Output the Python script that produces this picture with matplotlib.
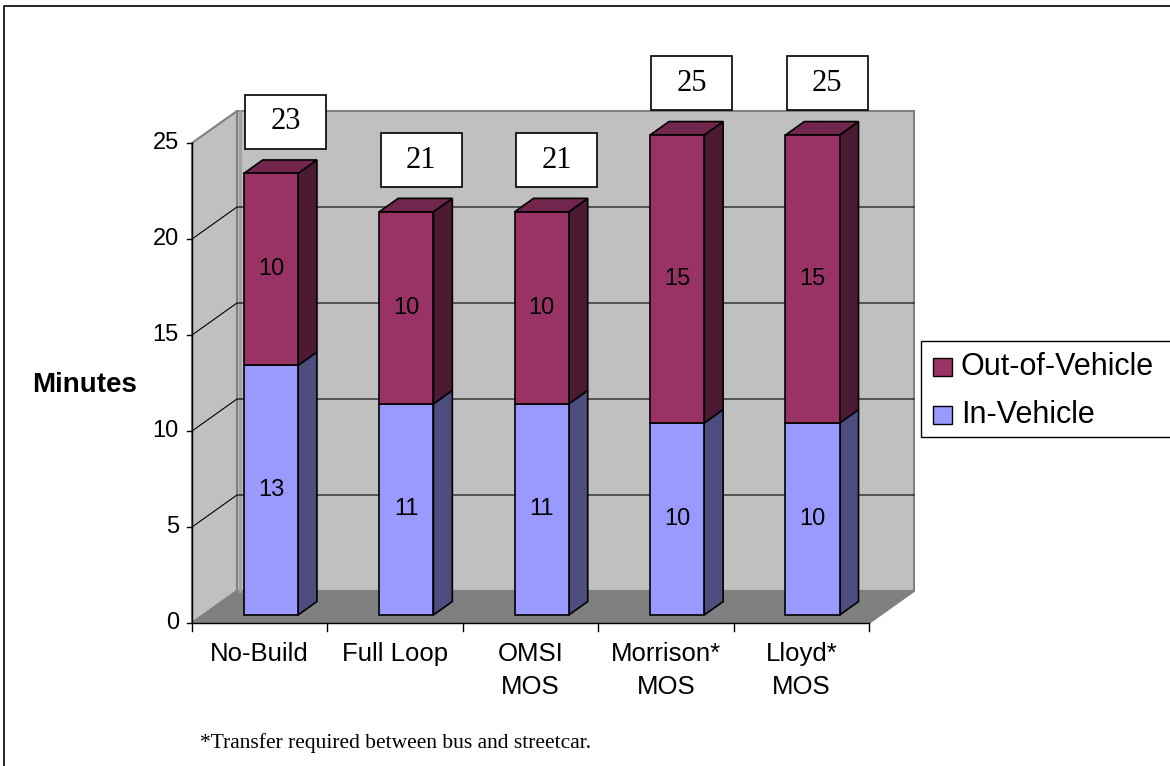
import matplotlib
matplotlib.use('Agg')
import matplotlib.pyplot as plt
from matplotlib.patches import Polygon, Rectangle

# data
categories = ['No-Build', 'Full Loop', 'OMSI\nMOS', 'Morrison*\nMOS', 'Lloyd*\nMOS']
in_vehicle = [13, 11, 11, 10, 10]
out_vehicle = [10, 10, 10, 15, 15]
totals = [23, 21, 21, 25, 25]
yticks = [0, 5, 10, 15, 20, 25]
series_names = ['Out-of-Vehicle', 'In-Vehicle']

# colours (Excel 2003 style)
out_front, out_side, out_top = '#993366', '#4d1a33', '#73264d'
in_front, in_side, in_top = '#9999ff', '#4d4d80', '#7373bf'
wall_col, floor_col, edge_col = '#c0c0c0', '#808080', '#808080'

plt.rcParams['font.family'] = ['Liberation Sans', 'DejaVu Sans']

W, H = 1170, 766
fig = plt.figure(figsize=(W / 100, H / 100), dpi=100)
fig.patch.set_facecolor('white')

# pixel axes for frame, legend, notes
bg = fig.add_axes([0, 0, 1, 1])
bg.set_xlim(0, W)
bg.set_ylim(H, 0)
bg.axis('off')

# plot area (front plane)
x0, x1, y0, y1 = 192, 869, 623, 143
ax = fig.add_axes([x0 / W, (H - y0) / H, (x1 - x0) / W, (y0 - y1) / H])
n = len(categories)
left, right = -0.5, n - 0.5
ymax = yticks[-1]
ax.set_xlim(left, right)
ax.set_ylim(0, ymax)
ax.axis('off')

PX = (x1 - x0) / n      # px per category
PY = (y0 - y1) / ymax   # px per minute
DX = 45 / PX
DY = 32 / PY


def poly(pts, fc, ec='black', lw=1.2, z=1):
    ax.add_patch(Polygon(pts, closed=True, facecolor=fc, edgecolor=ec,
                         linewidth=lw, clip_on=False, zorder=z))


# walls and floor
poly([(left + DX, DY), (right + DX, DY), (right + DX, ymax + DY), (left + DX, ymax + DY)],
     wall_col, edge_col, 1.5)
poly([(left, 0), (left + DX, DY), (left + DX, ymax + DY), (left, ymax)], wall_col, edge_col, 1.5)
poly([(left, 0), (right, 0), (right + DX, DY), (left + DX, DY)], floor_col, edge_col, 1.5)
# thin darker strip where side wall meets back wall
ax.plot([left + DX + 3 / PX] * 2, [DY, ymax + DY], color='#a0a0a0', lw=2, clip_on=False, zorder=1.5)

for v in yticks[1:-1]:
    ax.plot([left, left + DX, right + DX], [v, v + DY, v + DY], color='black', lw=0.8,
            clip_on=False, zorder=2)

# axes lines
ax.plot([left, left], [0, ymax], color='black', lw=1.0, clip_on=False, zorder=2)
ax.plot([left, right], [0, 0], color='black', lw=1.0, clip_on=False, zorder=2)
for v in yticks:
    ax.plot([left - 5 / PX, left], [v, v], color='black', lw=1.0, clip_on=False)
    ax.text(left - 13 / PX, v, str(v), ha='right', va='center', fontsize=17)
for k in range(n + 1):
    ax.plot([left + k, left + k], [0, -8 / PY], color='black', lw=1.0, clip_on=False)
for i, lab in enumerate(categories):
    ax.text(i, -19 / PY, lab, ha='center', va='top', fontsize=18.5, linespacing=1.47)

# 3D stacked bars
bw = 0.4
t0, t1 = 0.25, 0.67
for i in range(n):
    segs = [(0, in_vehicle[i], in_front, in_side, in_top, in_vehicle[i]),
            (in_vehicle[i], totals[i], out_front, out_side, out_top, out_vehicle[i])]
    for j, (b, tp, fc, sc, tc, val) in enumerate(segs):
        xl, xr = i - bw / 2, i + bw / 2
        z = 4 + j
        side = [(xr + t0 * DX, b + t0 * DY), (xr + t1 * DX, b + t1 * DY),
                (xr + t1 * DX, tp + t1 * DY), (xr + t0 * DX, tp + t0 * DY)]
        poly(side, sc, z=z)
        if j == len(segs) - 1:
            top = [(xl + t0 * DX, tp + t0 * DY), (xr + t0 * DX, tp + t0 * DY),
                   (xr + t1 * DX, tp + t1 * DY), (xl + t1 * DX, tp + t1 * DY)]
            poly(top, tc, z=z)
        front = [(xl + t0 * DX, b + t0 * DY), (xr + t0 * DX, b + t0 * DY),
                 (xr + t0 * DX, tp + t0 * DY), (xl + t0 * DX, tp + t0 * DY)]
        poly(front, fc, z=z)
        ax.text(i + t0 * DX, (b + tp) / 2 + t0 * DY, str(val), ha='center', va='center',
                fontsize=17, zorder=8)

    # total label box
    cx = i + 26 / PX
    cy = totals[i] + 3.1
    ax.add_patch(Rectangle((cx - 40.5 / PX, cy - 27 / PY), 81 / PX, 54 / PY, facecolor='white',
                           edgecolor='black', linewidth=1.2, clip_on=False, zorder=9))
    ax.text(cx, cy, str(totals[i]), ha='center', va='center', fontsize=22,
            family='Liberation Serif', zorder=10)

# outer frame
bg.plot([4, 4, W + 5], [H + 5, 6, 6], color='black', lw=1.2)

# legend
bg.add_patch(Rectangle((921, 341), 280, 96, facecolor='white', edgecolor='black', linewidth=1.0))
for k, (name, col) in enumerate(zip(series_names, [out_front, in_front])):
    yc = 367 + 48 * k
    bg.add_patch(Rectangle((933, yc - 9), 19, 18, facecolor=col, edgecolor='black', linewidth=1.0))
    bg.text(961, yc, name, ha='left', va='center', fontsize=22)

bg.text(137, 385, 'Minutes', ha='right', va='center', fontsize=20, fontweight='bold')
bg.text(200, 743, '*Transfer required between bus and streetcar.', ha='left', va='center',
        fontsize=15.5, family='Liberation Serif')

fig.savefig('out.png', dpi=100)
